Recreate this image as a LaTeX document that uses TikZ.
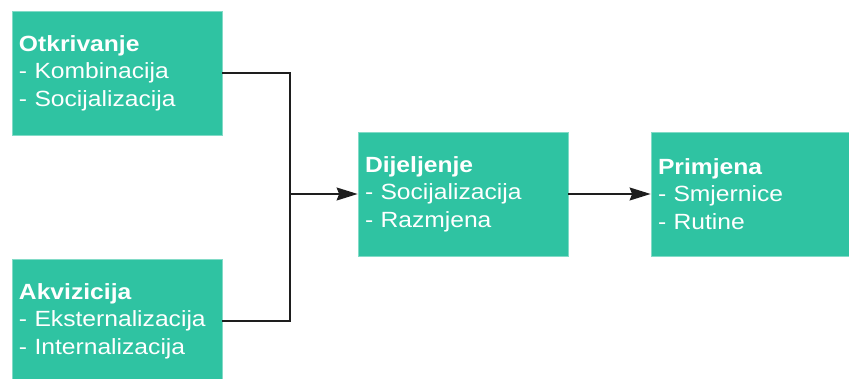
\documentclass[tikz,border=0pt]{standalone}
\usepackage{fontspec}
\setmainfont{Liberation Sans}[FakeStretch=1.12]
\usetikzlibrary{arrows.meta}

\definecolor{boxteal}{RGB}{47,195,162}
\definecolor{linegray}{RGB}{30,30,30}

\tikzset{
	stage/.style={fill=boxteal, draw=boxteal!60!white, line width=0.8pt,
		minimum width=210pt, minimum height=124pt, inner sep=7pt,
		text width=196pt, align=left, text=white,
		font=\fontsize{22}{27.5}\selectfont},
	flow/.style={draw=linegray, line width=1.3pt},
	flowarrow/.style={flow, -{Stealth[length=21pt, width=13pt, inset=2.5pt]}}
}

\begin{document}
	\begin{tikzpicture}[x=1pt, y=-1pt]
		
		% page
		\clip (0,0) rectangle (849,379);
		\fill[white] (0,0) rectangle (849,379);
		
		% Left stages
		\node [stage] (otk) at (117, 73) {\textbf{Otkrivanje}\\- Kombinacija\\- Socijalizacija};
		
		\node [stage] (akv) at (117, 321) {\textbf{Akvizicija}\\- Eksternalizacija\\- Internalizacija};
		
		% Middle and right stages
		\node [stage] (dij) at (463, 194) {\textbf{Dijeljenje}\\- Socijalizacija\\- Razmjena};
		
		\node [stage] (prim) at (756, 194) {\textbf{Primjena}\\- Smjernice\\- Rutine};
		
		% Connectors
		\coordinate (join) at (290, 194);
		
		\draw [flow] (otk.east) -| (join);
		
		\draw [flow] (akv.east) -| (join);
		
		\draw [flowarrow] (join) -- (dij.west);
		
		\draw [flowarrow] (dij.east) -- (prim.west);
		
	\end{tikzpicture}
\end{document}
